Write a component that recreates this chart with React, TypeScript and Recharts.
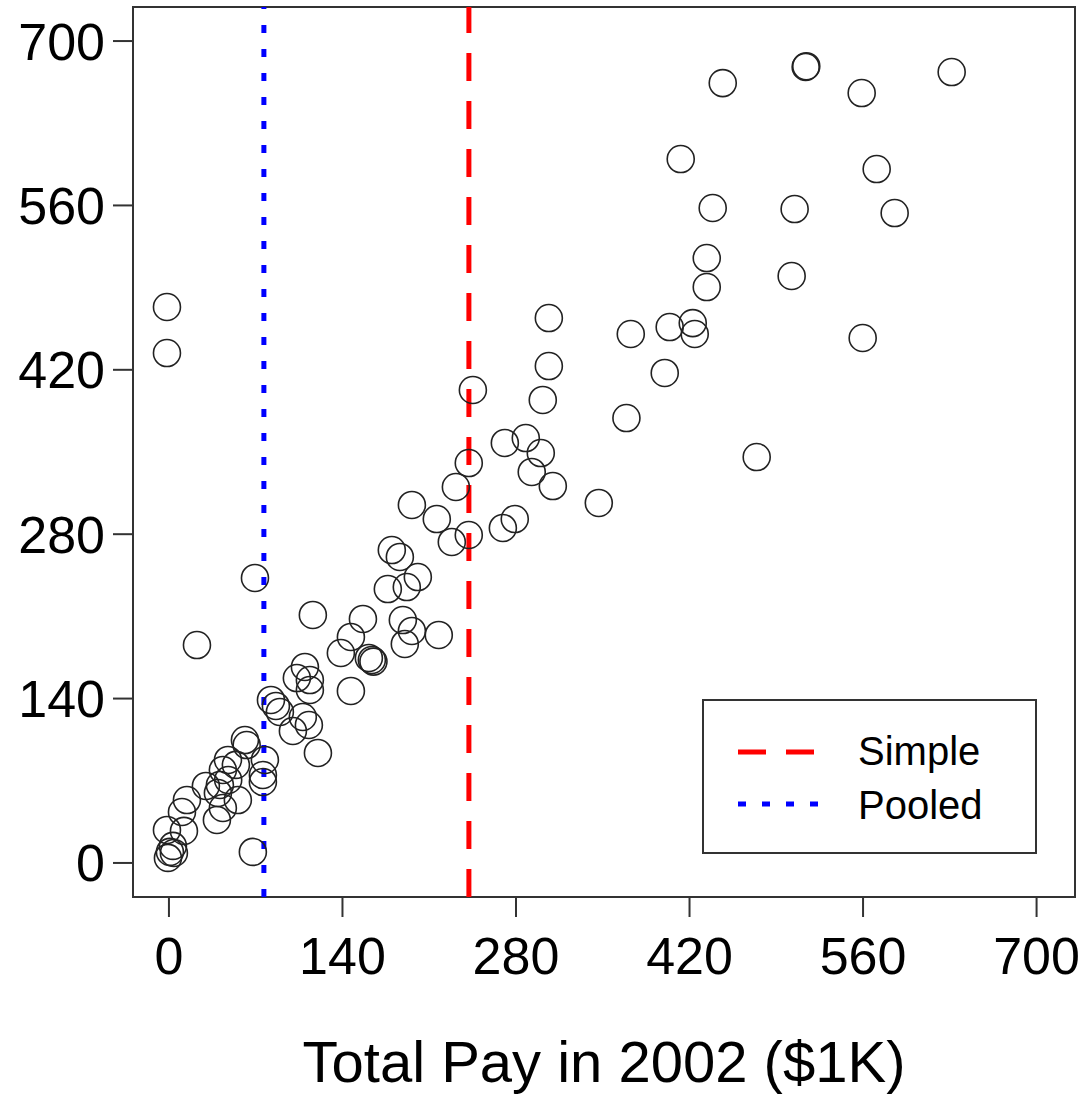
import React from 'react';
import { ScatterChart, Scatter, XAxis, YAxis, ReferenceLine, ReferenceArea } from 'recharts';

const FONT = '"Liberation Sans", Arial, sans-serif';

// x: total pay in 2002, y: paired pay figure ($1K)
const xVals = [
  -0.8, 0.8, 3.2, 4.0, -1.6, 12.1, 10.5, 14.5, 29.8, 38.7,
  41.1, 43.5, 43.5, 47.6, 55.6, 61.3, 62.7, 77.4, 75.8, 75.8,
  67.7, 54.0, 39.5, 47.8, 82.3, 86.3, 89.5, 108.0, 112.9, 100.0,
  120.2, 109.7, 103.2, 113.7, 113.7, 116.1, 146.8, 138.7, 146.8, 156.5,
  161.3, 163.7, 188.7, 196.0, 190.3, 217.7, 176.6, 191.9, 200.8, 179.8,
  186.3, 196.0, 216.1, 228.2, 241.9, 269.4, 279.0, 231.5, 241.9, 271.0,
  287.9, 300.0, 292.7, 309.7, 346.8, 245.2, 301.6, 306.5, 306.5, 369.1,
  372.6, 400.0, 404.0, 422.6, 424.2, 474.2, 433.9, 433.9, 502.4, 438.7,
  504.8, 585.5, 412.9, 571.0, 446.8, 513.7, 514.2, 558.9, 631.5, 559.7,
  -1.6, -1.6, 22.6, 69.4, 165.0,
];
const yVals = [
  4.3, 9.4, 14.5, 8.5, 28.1, 27.3, 43.4, 53.6, 65.6, 36.6,
  66.4, 46.8, 79.2, 87.7, 53.6, 104.7, 100.4, 87.7, 74.9, 69.0,
  9.4, 83.5, 59.6, 70.7, 138.8, 133.7, 128.6, 124.3, 117.5, 112.4,
  93.7, 166.9, 157.5, 155.8, 147.3, 211.2, 146.5, 178.8, 192.5, 207.8,
  174.6, 172.9, 206.9, 197.6, 186.5, 194.2, 233.3, 235.0, 243.5, 266.5,
  260.6, 304.9, 292.9, 273.4, 279.3, 285.3, 292.9, 320.2, 340.6, 357.7,
  361.9, 349.1, 333.0, 321.0, 306.6, 402.8, 394.3, 423.2, 464.1, 378.9,
  450.5, 417.3, 456.4, 459.8, 450.5, 345.7, 515.2, 490.5, 499.9, 557.8,
  556.9, 553.5, 599.5, 591.0, 664.2, 677.9, 678.6, 655.7, 673.6, 447.1,
  473.5, 434.3, 185.6, 242.7, 171.5,
];

const xTicks = [0, 140, 280, 420, 560, 700];
const yTicks = [0, 140, 280, 420, 560, 700];

// cutoff estimates drawn as vertical lines
const cutoffs = [
  { name: 'Simple', value: 242, color: '#ff0000', dash: '28 20' },
  { name: 'Pooled', value: 76.6, color: '#0000ff', dash: '8 16' },
];

const points = xVals.map((x, i) => ({ x, y: yVals[i] }));

const Ring = (props: any) => {
  const { cx, cy } = props;
  if (cx == null || cy == null) return null;
  return <circle cx={cx} cy={cy} r={13.5} fill="none" stroke="#222" strokeWidth={1.6} />;
};

const LegendBox = () => (
  <div
    style={{
      position: 'absolute',
      left: 702,
      top: 699,
      width: 335,
      height: 155,
      boxSizing: 'border-box',
      border: '2px solid #333',
      background: '#fff',
    }}
  >
    <svg width={331} height={151} style={{ display: 'block' }}>
      {cutoffs.map((c, i) => (
        <g key={c.name}>
          <line
            x1={34}
            x2={i === 0 ? 113 : 122}
            y1={51 + i * 52}
            y2={51 + i * 52}
            stroke={c.color}
            strokeWidth={5}
            strokeDasharray={c.dash}
          />
          <text x={154} y={64 + i * 54} fontSize={40} fontFamily={FONT} fill="#000">
            {c.name}
          </text>
        </g>
      ))}
    </svg>
  </div>
);

export default function App() {
  return (
    <div style={{ position: 'absolute', left: 0, top: 0, width: 1086, height: 1096, background: '#fff' }}>
      <ScatterChart width={1086} height={1096} margin={{ top: 7, right: 11, bottom: 0, left: 0 }}>
        <XAxis
          type="number"
          dataKey="x"
          domain={[-29, 731]}
          ticks={xTicks}
          allowDataOverflow
          height={199}
          tickSize={20}
          tickMargin={20}
          axisLine={false}
          tickLine={{ stroke: '#333', strokeWidth: 2 }}
          tick={{ fontSize: 52, fill: '#000', fontFamily: FONT }}
          label={{
            value: 'Total Pay in 2002 ($1K)',
            position: 'insideBottom',
            offset: 14,
            fontSize: 58,
            fill: '#000',
            fontFamily: FONT,
          }}
        />
        <YAxis
          type="number"
          dataKey="y"
          domain={[-29, 729]}
          ticks={yTicks}
          allowDataOverflow
          width={133}
          tickSize={20}
          tickMargin={8}
          axisLine={false}
          tickLine={{ stroke: '#333', strokeWidth: 2 }}
          tick={{ fontSize: 52, fill: '#000', fontFamily: FONT }}
        />
        <ReferenceArea
          x1={-29}
          x2={731}
          y1={-29}
          y2={729}
          fill="none"
          stroke="#333"
          strokeWidth={2}
          ifOverflow="visible"
        />
        <Scatter data={points} shape={Ring} isAnimationActive={false} />
        {cutoffs.map((c) => (
          <ReferenceLine
            key={c.name}
            x={c.value}
            stroke={c.color}
            strokeWidth={5}
            strokeDasharray={c.dash}
          />
        ))}
      </ScatterChart>
      <LegendBox />
    </div>
  );
}
